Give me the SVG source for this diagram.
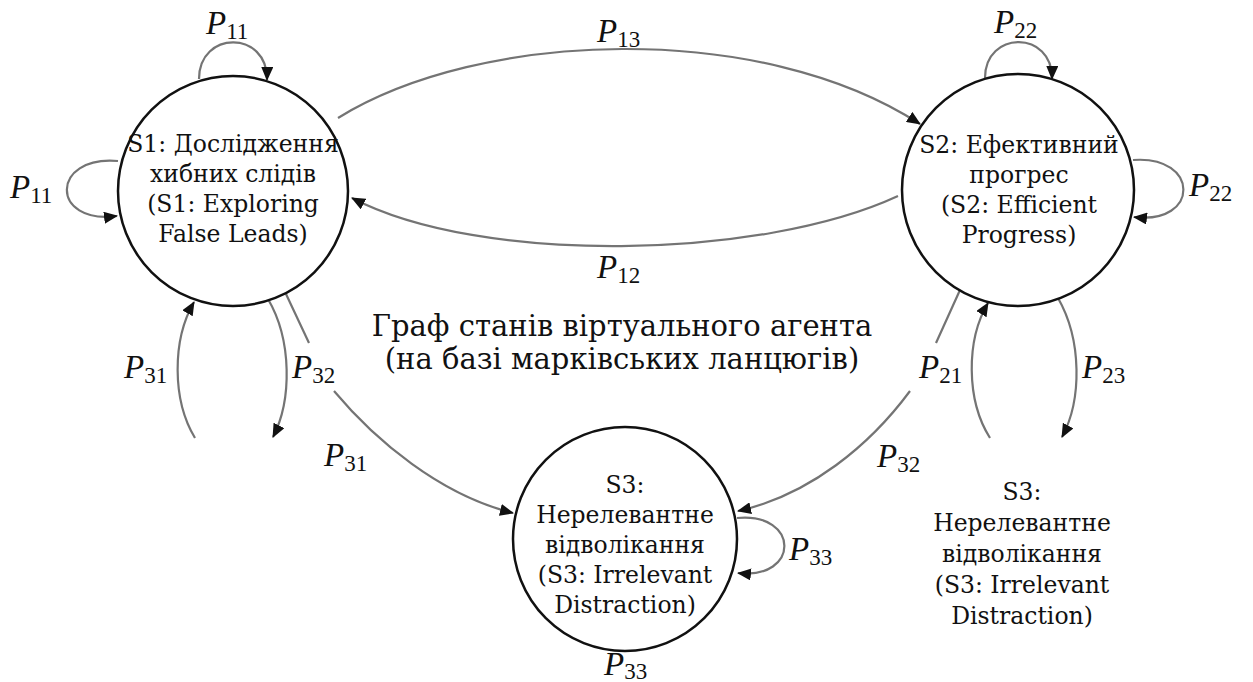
<svg xmlns="http://www.w3.org/2000/svg" width="1253" height="682" viewBox="0 0 1253 682">
<style>
.node{fill:#fff;stroke:#111;stroke-width:2.5}
.nt{font-family:"DejaVu Serif","Liberation Serif",serif;font-size:23.5px;fill:#111;text-anchor:middle}
.title{font-family:"DejaVu Serif","Liberation Serif",serif;font-size:29px;fill:#111;text-anchor:middle}
.edge{fill:none;stroke:#747474;stroke-width:2.2}
.lbl{font-family:"Liberation Serif","DejaVu Serif",serif;font-size:33px;fill:#111}
.lbl .p{font-style:italic}
.lbl .s{font-size:23px}
</style>
<defs>
<marker id="ah" viewBox="0 0 14 12" markerWidth="14" markerHeight="12" refX="13" refY="6" orient="auto" markerUnits="userSpaceOnUse">
<path d="M0 0 L14 6 L0 12 z" fill="#111"/>
</marker>
</defs>
<rect width="1253" height="682" fill="#fff"/>
<g id="connectors">
<path class="edge" d="M338 118 C480 30 760 20 920 124" marker-end="url(#ah)"/>
<path class="edge" d="M898 196 C760 260 480 265 352 198" marker-end="url(#ah)"/>
<path class="edge" d="M199 79 C199 30 268 30 267 80" marker-end="url(#ah)"/>
<path class="edge" d="M118 161 C50 155 50 225 117 216" marker-end="url(#ah)"/>
<path class="edge" d="M985 78 C985 30 1053 30 1052 79" marker-end="url(#ah)"/>
<path class="edge" d="M1133 160 C1200 155 1200 225 1134 217" marker-end="url(#ah)"/>
<path class="edge" d="M737 518 C800 512 800 580 738 573" marker-end="url(#ah)"/>
<path class="edge" d="M195 438 C172 400 172 340 194 302" marker-end="url(#ah)"/>
<path class="edge" d="M268 299 C292 340 292 400 273 437" marker-end="url(#ah)"/>
<path class="edge" d="M990 438 C966 400 966 340 988 303" marker-end="url(#ah)"/>
<path class="edge" d="M1058 298 C1082 340 1082 400 1062 437" marker-end="url(#ah)"/>
<path class="edge" d="M286 294 L309 343 M334 391 C375 440 440 495 513 513" marker-end="url(#ah)"/>
<path class="edge" d="M960 290 L936 343 M910 391 C870 445 810 495 738 511" marker-end="url(#ah)"/>
</g>
<g id="S1">
<circle class="node" cx="233" cy="191" r="115"/>
<text class="nt"><tspan x="233" y="152">S1: Дослідження</tspan><tspan x="233" y="182">хибних слідів</tspan><tspan x="233" y="212">(S1: Exploring</tspan><tspan x="233" y="242">False Leads)</tspan></text>
</g>
<g id="S2">
<circle class="node" cx="1018" cy="190" r="116"/>
<text class="nt"><tspan x="1019" y="153">S2: Ефективний</tspan><tspan x="1019" y="183">прогрес</tspan><tspan x="1019" y="213">(S2: Efficient</tspan><tspan x="1019" y="243">Progress)</tspan></text>
</g>
<g id="S3">
<circle class="node" cx="625" cy="539" r="112"/>
<text class="nt"><tspan x="625" y="493">S3:</tspan><tspan x="625" y="523">Нерелевантне</tspan><tspan x="625" y="553">відволікання</tspan><tspan x="625" y="583">(S3: Irrelevant</tspan><tspan x="625" y="613">Distraction)</tspan></text>
</g>
<g id="S3-text">
<text class="nt"><tspan x="1022" y="500">S3:</tspan><tspan x="1022" y="531">Нерелевантне</tspan><tspan x="1022" y="562">відволікання</tspan><tspan x="1022" y="593">(S3: Irrelevant</tspan><tspan x="1022" y="624">Distraction)</tspan></text>
</g>
<g id="title">
<text class="title"><tspan x="622" y="336">Граф станів віртуального агента</tspan><tspan x="622" y="369">(на базі марківських ланцюгів)</tspan></text>
</g>
<g id="labels">
<text class="lbl" x="206" y="34"><tspan class="p">P</tspan><tspan class="s" dy="5">11</tspan></text>
<text class="lbl" x="10" y="198"><tspan class="p">P</tspan><tspan class="s" dy="5">11</tspan></text>
<text class="lbl" x="597" y="42"><tspan class="p">P</tspan><tspan class="s" dy="5">13</tspan></text>
<text class="lbl" x="597" y="278"><tspan class="p">P</tspan><tspan class="s" dy="5">12</tspan></text>
<text class="lbl" x="994" y="33"><tspan class="p">P</tspan><tspan class="s" dy="5">22</tspan></text>
<text class="lbl" x="1189" y="196"><tspan class="p">P</tspan><tspan class="s" dy="5">22</tspan></text>
<text class="lbl" x="124" y="378"><tspan class="p">P</tspan><tspan class="s" dy="5">31</tspan></text>
<text class="lbl" x="292" y="378"><tspan class="p">P</tspan><tspan class="s" dy="5">32</tspan></text>
<text class="lbl" x="324" y="466"><tspan class="p">P</tspan><tspan class="s" dy="5">31</tspan></text>
<text class="lbl" x="919" y="378"><tspan class="p">P</tspan><tspan class="s" dy="5">21</tspan></text>
<text class="lbl" x="877" y="467"><tspan class="p">P</tspan><tspan class="s" dy="5">32</tspan></text>
<text class="lbl" x="1082" y="378"><tspan class="p">P</tspan><tspan class="s" dy="5">23</tspan></text>
<text class="lbl" x="789" y="560"><tspan class="p">P</tspan><tspan class="s" dy="5">33</tspan></text>
<text class="lbl" x="604" y="675"><tspan class="p">P</tspan><tspan class="s" dy="4">33</tspan></text>
</g>
</svg>
